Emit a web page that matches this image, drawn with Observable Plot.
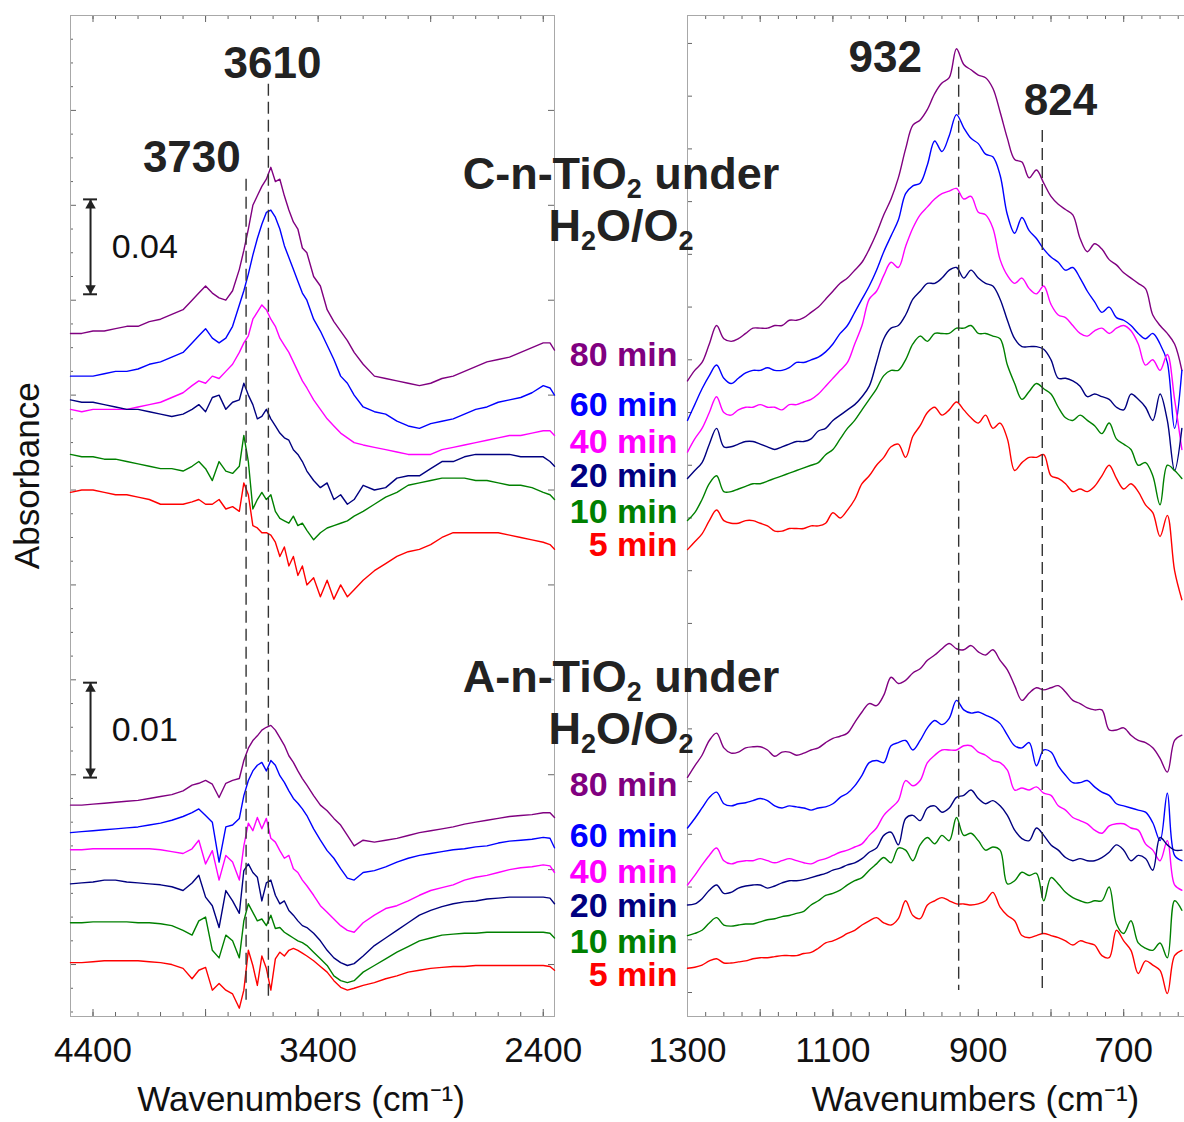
<!DOCTYPE html>
<html><head><meta charset="utf-8">
<script src="https://cdn.jsdelivr.net/npm/d3@7"></script>
<script src="https://cdn.jsdelivr.net/npm/@observablehq/plot@0.6"></script>
<style>
body{margin:0;background:#fff;}
#wrap{position:relative;width:1184px;height:1122px;overflow:hidden;background:#fff;font-family:"Liberation Sans",Arial,Helvetica,sans-serif;}
#wrap svg{position:absolute;top:0;}
.grp{position:absolute;width:400px;font-weight:bold;font-size:45px;line-height:52px;color:#222;text-align:center;white-space:nowrap;}
.grp sub{font-size:27px;line-height:0;vertical-align:-9px;}
</style></head><body><div id="wrap"></div>
<script>
// ---------- categories ----------
const timeLabels = ["80 min","60 min","40 min","20 min","10 min","5 min"];
const timeColors = ["#800080","#0000ff","#ff00ff","#000080","#008000","#ff0000"];
const groupTitles = [["C-n-TiO","2"," under"],["A-n-TiO","2"," under"]];
const leftTickLabels = [4400, 3400, 2400];
const rightTickLabels = [1300, 1100, 900, 700];
const leftPeaks = ["3730", "3610"];
const rightPeaks = ["932", "824"];
const scaleBarLabels = ["0.04", "0.01"];
const scaleBarValues = [0.04, 0.01];   // absorbance
const gainA = 4;                        // A-n-TiO2 traces are magnified x4 (scale bar 0.01)

// ---------- left panel: OH stretching region (wavenumbers, cm-1) ----------
const leftWn = [4500,4450,4400,4350,4300,4250,4200,4150,4100,4050,
  4000,3960,3930,3900,3870,3840,3810,3780,3750,3730,
  3710,3690,3670,3650,3630,3610,3590,3570,3550,3530,
  3510,3490,3470,3450,3420,3390,3360,3330,3300,3270,
  3240,3200,3150,3100,3050,3000,2950,2900,2850,2800,
  2750,2700,2650,2600,2550,2500,2450,2400,2370,2350];
// C-n-TiO2, offset absorbance (mAbs)
const cOH80 = [266,266,267,267,268,269,269,271,272,274, 276,280,283,286,283,281,280,284,293,301, 310,320,324,328,331,336,330,331,324,318, 313,310,302,300,290,286,276,271,267,263, 258,253,248,247,246,245,244,245,247,248, 250,252,254,255,256,258,260,262,262,259];
const cOH60 = [248,248,248,249,250,250,251,253,254,256, 258,262,265,268,264,262,264,269,278,284, 291,299,306,312,317,318,315,310,303,298, 293,288,283,280,272,267,261,255,248,245, 240,235,233,232,229,227,226,228,229,230, 232,234,235,237,238,239,241,244,243,240];
const cOH40 = [234,233,234,234,234,234,235,236,237,239, 241,244,246,245,248,247,250,253,258,262, 265,272,275,278,276,272,269,264,261,258, 254,250,246,243,238,234,230,227,224,222, 220,219,218,217,216,215,215,215,217,218, 219,220,221,222,223,223,224,225,225,223];
const cOH20 = [238,237,237,236,235,234,234,233,232,231, 232,234,236,233,239,240,234,237,238,245, 240,236,230,231,234,230,227,224,222,221, 217,215,212,208,204,201,203,196,198,194, 196,202,200,201,205,206,206,209,212,212, 214,215,215,215,215,214,214,214,212,210];
const cOH10 = [215,214,214,213,213,212,211,210,209,209, 208,210,212,209,204,212,208,207,210,223, 212,192,196,199,196,198,191,188,187,186, 189,185,186,183,179,182,184,185,186,187, 189,191,194,197,199,202,203,204,205,205, 205,204,204,203,202,202,201,199,198,196];
const cOH5  = [199,200,200,199,198,198,197,196,194,194, 194,195,196,194,194,196,192,193,191,203, 198,185,184,182,182,181,178,172,176,168, 172,164,168,160,163,155,162,154,160,155, 158,162,166,169,172,174,175,177,180,182, 182,182,182,182,181,180,179,178,177,175];
// A-n-TiO2, offset absorbance (mAbs, before x4)
const aOH80 = [16.8,16.8,16.9,17.0,17.1,17.2,17.3,17.5,17.7,17.9, 18.3,18.9,19.1,19.4,19.0,17.6,19.1,19.4,19.6,21.5, 22.8,23.6,24.1,24.7,25.0,25.2,24.7,23.9,23.1,22.0, 21.3,20.4,19.6,18.9,17.8,16.8,16.2,15.4,14.7,13.6, 12.5,13.1,12.9,13.1,13.3,13.6,13.9,14.1,14.3,14.5, 14.8,15.0,15.2,15.4,15.6,15.7,15.8,16.0,16.0,15.5];
const aOH60 = [13.9,14.0,14.1,14.2,14.3,14.4,14.5,14.7,14.9,15.2, 15.6,16.0,16.4,15.7,15.0,10.8,14.5,14.7,15.4,17.8, 19.4,20.4,21.0,21.3,20.4,21.5,21.0,19.9,19.2,18.3, 17.5,17.0,16.4,15.7,14.3,13.1,12.0,11.2,10.1,9.1, 8.9,9.7,9.9,10.3,10.8,11.2,11.5,11.7,11.9,12.1, 12.2,12.4,12.5,12.8,13.0,13.1,13.2,13.4,13.3,12.3];
const aOH40 = [12.1,12.1,12.2,12.2,12.2,12.2,12.2,12.2,12.1,11.9, 11.7,12.2,13.1,10.6,12.0,8.9,11.5,10.8,8.9,12.5, 14.9,14.1,15.5,14.3,15.4,13.3,12.9,12.0,11.2,11.5, 10.1,9.7,8.9,8.3,7.3,6.2,5.5,4.8,4.1,3.6, 3.4,4.4,5.2,5.9,6.2,6.7,7.3,7.8,8.1,8.4, 8.9,9.2,9.4,9.7,10.0,10.2,10.3,10.5,10.4,9.7];
const aOH20 = [8.5,8.6,8.7,8.9,8.9,8.7,8.6,8.5,8.4,8.2, 7.8,8.6,9.4,7.1,6.2,3.9,7.8,6.7,5.4,9.9, 10.6,9.7,9.2,6.7,8.6,8.9,7.3,6.4,6.7,5.7, 5.2,4.6,4.1,3.9,3.3,2.5,1.5,0.7,0.2,-0.1, 0.1,0.9,2.0,2.8,3.6,4.4,5.2,5.7,6.1,6.4, 6.6,6.7,6.9,7.0,7.1,7.1,7.1,7.1,7.0,6.4];
const aOH10 = [4.4,4.4,4.5,4.5,4.5,4.5,4.4,4.4,4.3,4.1, 3.6,3.1,4.6,5.0,1.5,0.7,3.1,2.5,0.7,4.6, 6.4,5.5,4.6,4.8,4.1,5.2,3.8,3.9,3.4,3.1, 2.8,2.5,2.3,2.0,1.3,0.6,-0.1,-1.2,-1.7,-1.9, -1.7,-0.8,-0.1,0.6,1.3,1.9,2.5,2.8,3.1,3.2, 3.3,3.3,3.4,3.4,3.4,3.4,3.4,3.4,3.3,2.8];
const aOH5  = [0.2,0.2,0.3,0.4,0.4,0.4,0.4,0.3,0.2,0.0, -0.4,-1.5,-0.6,-0.3,-2.7,-2.0,-2.7,-3.1,-4.6,-2.7, 1.5,-0.1,-2.2,0.9,-0.4,-2.7,0.6,1.3,0.9,1.5, 1.7,1.5,1.2,0.9,0.4,-0.2,-0.8,-1.7,-2.4,-2.7, -2.5,-2.2,-1.9,-1.5,-1.2,-0.8,-0.6,-0.4,-0.3,-0.2, -0.2,-0.1,-0.1,-0.1,-0.1,-0.1,-0.1,-0.1,-0.2,-0.6];

// ---------- right panel: Ti-O / peroxo region ----------
const rightWn = [1300,1290,1280,1270,1260,1250,1240,1230,1220,1210,
  1200,1190,1180,1170,1160,1150,1140,1130,1120,1110,
  1100,1090,1080,1070,1060,1050,1040,1030,1020,1010,
  1000,990,980,970,960,950,940,930,920,910,
  900,890,880,870,860,850,840,830,820,810,
  800,790,780,770,760,750,740,730,720,710,
  700,690,680,670,660,650,640,630,620];
const cTi80 = [232,236,239,246,253,248,247,248,250,252, 252,252,253,253,255,255,256,258,260,263, 266,269,271,274,277,282,288,295,301,309, 320,329,331,335,341,345,347,358,352,350, 348,347,343,334,324,316,315,309,312,307, 302,299,297,295,286,281,284,282,278,276, 273,271,269,267,257,253,250,246,236];
const cTi60 = [217,223,229,234,238,233,231,233,235,236, 236,237,236,236,237,239,239,240,241,243, 246,250,253,258,263,268,274,281,287,293, 303,306,307,314,323,319,325,333,328,324, 322,318,317,310,295,288,294,289,286,282, 279,277,274,275,271,266,262,258,260,256, 255,253,250,248,250,246,239,214,236];
const cTi40 = [205,210,214,220,226,220,219,221,222,222, 223,222,222,221,223,223,224,225,227,230, 233,236,239,246,253,263,266,272,277,275, 283,290,295,298,301,303,304,305,301,302, 296,295,290,278,272,269,271,267,265,268, 261,257,256,253,250,249,251,252,250,252, 253,251,246,238,240,236,242,225,206];
const cTi20 = [195,198,201,208,214,207,207,208,209,209, 208,207,206,207,208,209,209,210,213,214, 217,219,221,223,226,230,239,248,252,253, 257,263,266,269,269,271,274,275,271,274, 271,269,268,263,255,248,245,245,245,244, 240,233,233,232,230,226,227,226,225,222, 221,227,225,222,217,227,217,198,214];
const cTi10 = [179,182,187,193,196,190,190,191,192,193, 193,194,195,196,197,198,199,200,201,204, 206,210,214,217,221,225,229,234,236,236, 240,246,249,247,250,250,250,252,252,253, 250,250,249,248,238,231,225,228,231,229, 227,222,218,217,219,217,215,212,216,210, 208,206,200,201,196,185,200,198,195];
const cTi5  = [168,171,174,179,183,179,178,178,179,179, 178,177,175,175,176,176,176,177,177,178, 182,180,183,187,193,196,200,203,207,208, 203,211,215,220,222,219,221,224,221,218, 216,219,214,216,210,198,201,203,203,204, 196,195,193,190,191,190,192,196,200,195, 191,193,190,185,182,173,181,160,149];
const aTi80 = [20.4,21.5,22.5,23.9,24.6,23.2,22.7,22.8,23.2,23.3, 23.3,23.0,22.4,22.8,22.8,22.5,22.7,23.0,23.2,23.7, 24.1,24.3,24.6,25.6,26.6,27.4,27.2,28.2,29.9,29.3, 29.6,30.3,30.7,31.5,32.0,32.6,33.1,32.6,32.5,32.9, 32.3,32.0,32.5,31.5,30.6,29.1,27.7,28.4,28.9,28.7, 28.9,29.1,28.5,27.7,27.4,27.0,26.8,26.8,24.9,24.9, 25.1,24.4,23.9,23.7,23.2,22.2,20.9,23.9,24.4];
const aTi60 = [15.6,16.5,17.5,18.5,19.0,17.9,17.7,17.9,18.0,18.2, 18.4,18.2,17.7,17.5,17.7,17.6,17.5,17.3,17.5,17.6, 17.9,18.5,18.9,19.6,20.6,21.8,22.0,21.8,23.4,23.7, 23.9,23.0,23.9,25.1,25.8,25.4,26.0,27.7,26.8,26.5, 26.6,26.3,26.0,25.5,24.4,23.4,23.2,23.7,21.5,23.0, 22.8,21.5,20.6,19.9,19.9,20.1,19.5,19.0,18.7,17.9, 17.7,17.5,17.3,17.1,16.1,14.4,18.9,13.0,12.5];
const aTi40 = [10.2,11.1,12.1,13.0,13.7,12.5,12.2,12.4,12.5,12.5, 12.7,12.5,12.3,12.5,12.7,12.5,12.3,12.2,12.5,12.7, 13.0,13.3,13.5,13.8,14.1,14.9,15.6,16.8,17.5,18.2, 20.1,19.6,20.1,21.8,22.5,23.0,23.0,23.0,23.4,23.4, 22.8,22.5,22.0,21.8,21.1,19.2,19.4,19.2,19.5,18.9, 18.7,17.7,17.3,16.6,16.3,16.0,15.4,15.1,15.8,16.0, 16.0,15.6,15.4,14.1,13.5,12.5,14.4,10.2,9.7];
const aTi20 = [8.3,8.4,8.9,9.7,10.2,9.4,9.5,9.9,10.1,10.2, 10.2,9.9,10.1,10.4,10.6,10.6,10.7,10.9,11.1,11.3, 11.6,11.8,12.1,12.3,12.7,13.3,13.7,14.9,15.2,14.0, 16.5,16.8,16.3,17.5,17.7,17.1,17.5,18.5,18.7,19.2, 18.4,17.9,18.2,17.7,16.8,15.4,14.6,14.4,15.6,14.9, 14.0,13.5,12.8,12.5,12.7,12.5,12.5,12.8,13.3,14.0, 13.5,12.5,13.0,12.7,11.6,14.7,14.0,13.5,13.5];
const aTi10 = [5.4,5.6,5.9,6.6,7.1,6.4,6.3,6.4,6.5,6.5, 6.7,6.9,7.0,7.2,7.3,7.5,7.7,8.3,8.7,9.2, 9.4,9.7,10.2,10.6,10.9,11.6,12.2,12.8,12.3,13.7, 13.5,12.5,14.0,14.7,14.1,14.9,14.4,16.6,14.9,15.1, 14.4,13.5,13.8,13.5,10.3,10.6,11.4,11.1,11.3,8.7, 10.9,10.3,9.5,9.0,8.7,8.5,8.7,8.7,10.0,6.5, 5.6,6.8,4.7,4.2,4.0,4.7,3.3,8.7,7.8];
const aTi5  = [2.3,2.4,2.6,3.0,3.2,2.8,2.8,2.9,3.0,3.2, 3.3,3.3,3.4,3.5,3.5,3.5,3.7,3.8,4.2,4.7, 4.9,5.2,5.6,5.9,6.4,6.8,7.1,6.6,6.4,7.0, 8.7,7.3,7.0,8.3,8.7,9.0,8.7,8.4,8.4,8.3, 8.4,8.7,9.5,8.1,7.3,6.8,5.4,5.2,5.4,5.6, 5.4,5.2,4.9,4.5,4.9,4.7,4.5,3.5,3.3,5.9, 4.9,4.0,1.8,3.0,2.6,2.1,-0.1,3.5,4.0];

// ---------- layout (positions in data units) ----------
const FONT = '"Liberation Sans", Arial, Helvetica, sans-serif';
const H = 1122, MT = 15, MB = 106, FH = H - MT - MB;
const LEFT_W = 560, LEFT_ML = 70, LEFT_MR = 6, LFW = LEFT_W - LEFT_ML - LEFT_MR;
const RIGHT_X = 555, RIGHT_W = 630, RIGHT_ML = 132, RFW = RIGHT_W - RIGHT_ML;
const leftPeakPos = [{x: 3961, y: 334, lx: 3720, top: 331}, {x: 3603, y: 373.5, lx: 3621, top: 371}];
const rightPeakPos = [{x: 1028, y: 349, lx: 927, top: 351}, {x: 787, y: 333, lx: 812, top: 327}];
const upperLabelY = [241.7, 222.8, 208.7, 195.8, 182.2, 169.6];
const lowerLabelY = [78.6, 59.2, 45.5, 32.6, 19.0, 6.5];
const scaleBarPos = [{x: 4411, y0: 282.5, gain: 1}, {x: 4411, y0: 78.8, gain: gainA}];

function seriesRows(wn, list, gain, group) {
  const rows = [];
  list.forEach((vals, i) => {
    const n = Math.min(wn.length, vals.length);
    for (let k = 0; k < n; k++) rows.push({wn: wn[k], v: vals[k] * gain, key: group + i, color: timeColors[i]});
  });
  return rows;
}
const leftRows = seriesRows(leftWn, [cOH80, cOH60, cOH40, cOH20, cOH10, cOH5], 1, "C")
  .concat(seriesRows(leftWn, [aOH80, aOH60, aOH40, aOH20, aOH10, aOH5], gainA, "A"));
const rightRows = seriesRows(rightWn, [cTi80, cTi60, cTi40, cTi20, cTi10, cTi5], 1, "C")
  .concat(seriesRows(rightWn, [aTi80, aTi60, aTi40, aTi20, aTi10, aTi5], gainA, "A"));

const bars = scaleBarPos.map((b, i) => ({x: b.x, y1: b.y0, y2: b.y0 + scaleBarValues[i] * 1000 * b.gain, label: scaleBarLabels[i]}));
const caps = bars.flatMap(b => [{y: b.y1, x1: b.x + 31, x2: b.x - 31}, {y: b.y2, x1: b.x + 31, x2: b.x - 31}]);

const tickStroke = "#666";
const leftXMinor = d3.range(4500, 2349, -100);
const leftXMajor = [4400, 3900, 3400, 2900, 2400];
const leftYMajor = d3.range(0, 401, 40);
const leftYMinor = d3.range(-20, 401, 10).filter(v => v % 40 !== 0);
const rightXMinor = d3.range(1300, 614, -25);
const rightXMajor = d3.range(1300, 614, -100);
const rightYMajor = d3.range(0, 371, 20);

const wrap = document.getElementById("wrap");

const left = Plot.plot({
  width: LEFT_W, height: H, marginLeft: LEFT_ML, marginRight: LEFT_MR, marginTop: MT, marginBottom: MB,
  x: {domain: [4500, 2350], axis: null},
  y: {domain: [-21.9, 400], axis: null},
  color: {type: "identity"},
  style: {background: "transparent", fontFamily: FONT, overflow: "visible", color: "#111"},
  marks: [
    Plot.ruleX(leftXMinor, {x: d => d, insetTop: FH - 4, stroke: tickStroke}),
    Plot.ruleX(leftXMinor, {x: d => d, insetBottom: FH - 4, stroke: tickStroke}),
    Plot.ruleX(leftXMajor, {x: d => d, insetTop: FH - 7, stroke: tickStroke}),
    Plot.ruleX(leftXMajor, {x: d => d, insetBottom: FH - 7, stroke: tickStroke}),
    Plot.ruleY(leftYMinor, {y: d => d, insetRight: LFW - 3, stroke: tickStroke}),
    Plot.ruleY(leftYMajor, {y: d => d, insetRight: LFW - 6, stroke: tickStroke}),
    Plot.ruleY(leftYMajor, {y: d => d, insetLeft: LFW - 6, stroke: tickStroke}),
    Plot.frame({stroke: "#a8a8a8"}),
    Plot.line(leftRows, {x: "wn", y: "v", z: "key", stroke: "color", strokeWidth: 1.4}),
    Plot.ruleX(leftPeakPos, {x: "lx", y1: "top", y2: -15, stroke: "#333", strokeWidth: 1.4, strokeDasharray: "12,6"}),
    Plot.text(leftPeakPos, {x: "x", y: "y", text: (d, i) => leftPeaks[i], fontSize: 44, fontWeight: "bold", fill: "#222", lineAnchor: "bottom"}),
    Plot.link(bars, {x1: "x", x2: "x", y1: "y1", y2: "y2", stroke: "#222", strokeWidth: 2}),
    Plot.ruleY(caps, {y: "y", x1: "x1", x2: "x2", stroke: "#222", strokeWidth: 2}),
    Plot.dot(bars, {x: "x", y: "y2", symbol: "triangle2", r: 5, fill: "#222", dy: 6}),
    Plot.dot(bars, {x: "x", y: "y1", symbol: "triangle2", r: 5, fill: "#222", dy: -6, rotate: 180}),
    Plot.text(bars, {x: 4317, y: d => (d.y1 + d.y2) / 2, text: "label", textAnchor: "start", fontSize: 34, fill: "#111"}),
    Plot.text(["Absorbance"], {x: 4500, y: 206, dx: -43, rotate: -90, fontSize: 35, fill: "#111"}),
    Plot.text(["Wavenumbers (cm\u207B\u00B9)"], {x: 3476, frameAnchor: "bottom", dy: 94, fontSize: 35, fill: "#111"}),
    Plot.axisX({ticks: leftTickLabels, tickSize: 0, tickPadding: 21, fontSize: 35, tickFormat: d3.format("d"), label: null})
  ]
});
left.style.left = "0px";
wrap.appendChild(left);

const timeLabelRows = timeLabels.flatMap((t, i) => [
  {t, color: timeColors[i], y: upperLabelY[i]},
  {t, color: timeColors[i], y: lowerLabelY[i]}
]);

const right = Plot.plot({
  width: RIGHT_W, height: H, marginLeft: RIGHT_ML, marginRight: 0, marginTop: MT, marginBottom: MB,
  x: {domain: [1300, 615], axis: null},
  y: {domain: [-9.1, 370.6], axis: null},
  color: {type: "identity"},
  style: {background: "transparent", fontFamily: FONT, overflow: "visible", color: "#111"},
  marks: [
    Plot.ruleX(rightXMinor, {x: d => d, insetTop: FH - 4, stroke: tickStroke}),
    Plot.ruleX(rightXMinor, {x: d => d, insetBottom: FH - 4, stroke: tickStroke}),
    Plot.ruleX(rightXMajor, {x: d => d, insetTop: FH - 7, stroke: tickStroke}),
    Plot.ruleX(rightXMajor, {x: d => d, insetBottom: FH - 7, stroke: tickStroke}),
    Plot.ruleY(rightYMajor, {y: d => d, insetRight: RFW - 5, stroke: tickStroke}),
    Plot.frame({stroke: "#a8a8a8"}),
    Plot.line(rightRows, {x: "wn", y: "v", z: "key", stroke: "color", strokeWidth: 1.4, curve: "catmull-rom"}),
    Plot.ruleX(rightPeakPos, {x: "lx", y1: "top", y2: 0.8, stroke: "#333", strokeWidth: 1.4, strokeDasharray: "12,6"}),
    Plot.text(rightPeakPos, {x: "x", y: "y", text: (d, i) => rightPeaks[i], fontSize: 44, fontWeight: "bold", fill: "#222", lineAnchor: "bottom"}),
    Plot.text(timeLabelRows, {x: d => 1300, y: "y", text: "t", fill: "color", dx: -10, textAnchor: "end", fontSize: 34, fontWeight: "bold"}),
    Plot.text(["Wavenumbers (cm\u207B\u00B9)"], {x: 904, frameAnchor: "bottom", dy: 94, fontSize: 35, fill: "#111"}),
    Plot.axisX({ticks: rightTickLabels, tickSize: 0, tickPadding: 21, fontSize: 35, tickFormat: d3.format("d"), label: null})
  ]
});
right.style.left = RIGHT_X + "px";
wrap.appendChild(right);

// group titles (span both panels)
const titleTops = [148, 651];
groupTitles.forEach((g, i) => {
  const d = document.createElement("div");
  d.className = "grp";
  d.style.left = "421px";
  d.style.top = titleTops[i] + "px";
  d.innerHTML = g[0] + "<sub>" + g[1] + "</sub>" + g[2] + "<br>H<sub>2</sub>O/O<sub>2</sub>";
  wrap.appendChild(d);
});
</script></body></html>
